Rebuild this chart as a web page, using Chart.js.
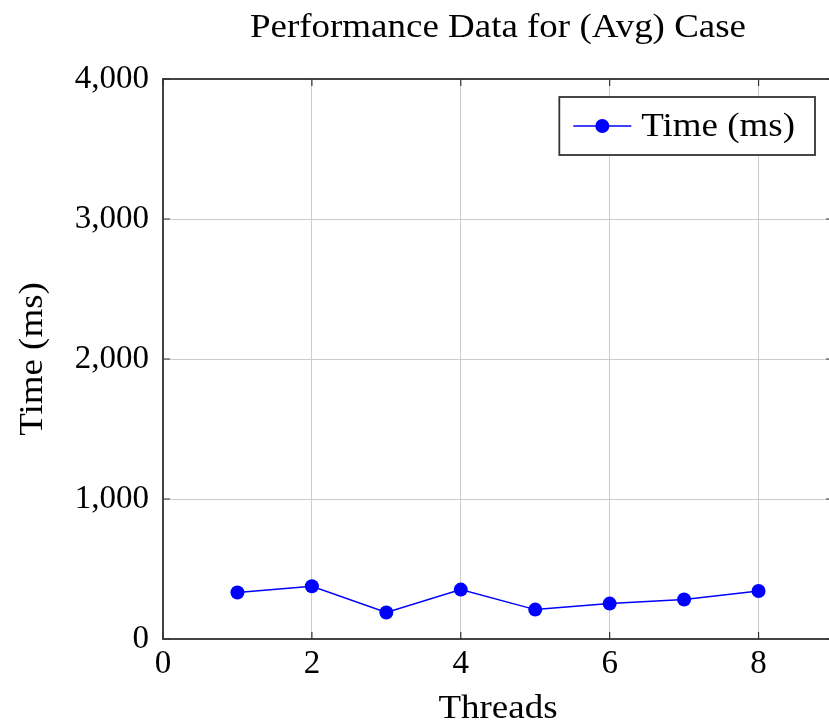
<!DOCTYPE html>
<html><head><meta charset="utf-8">
<script src="https://cdn.jsdelivr.net/npm/chart.js@4.4.1/dist/chart.umd.min.js"></script>
<style>html,body{margin:0;padding:0;background:#fff;overflow:hidden;width:829px;height:725px}</style>
</head><body>
<canvas id="c" width="840" height="725" style="display:block;width:840px;height:725px"></canvas>
<script>
const threads = [1, 2, 3, 4, 5, 6, 7, 8];
const timeMs = [332, 377, 189, 353, 210, 253, 282, 343];
const xTicks = [0, 2, 4, 6, 8];
const yTicks = [0, 1000, 2000, 3000, 4000];
const titleText = 'Performance Data for (Avg) Case';
const xLabel = 'Threads';
const yLabel = 'Time (ms)';
const seriesName = 'Time (ms)';

const FONT = '"Liberation Serif", "Times New Roman", serif';
const BLUE = '#0000ff';
const FRAME = '#333333';
const TEXT = '#000000';
const STRETCH = 1.12;

function wideText(ctx, text, x, y, align) {
  ctx.save();
  ctx.translate(x, y);
  ctx.scale(STRETCH, 1);
  ctx.textAlign = align;
  ctx.fillText(text, 0, 0);
  ctx.restore();
}

const decor = {
  id: 'decor',
  beforeDatasetsDraw(chart) {
    const {ctx, chartArea: a, scales} = chart;
    ctx.save();
    ctx.strokeStyle = FRAME;
    ctx.lineWidth = 1.2;
    ctx.beginPath();
    xTicks.forEach(v => {
      const px = scales.x.getPixelForValue(v);
      ctx.moveTo(px, a.bottom); ctx.lineTo(px, a.bottom - 7);
      ctx.moveTo(px, a.top); ctx.lineTo(px, a.top + 7);
    });
    yTicks.forEach(v => {
      const py = scales.y.getPixelForValue(v);
      ctx.moveTo(a.left, py); ctx.lineTo(a.left + 7, py);
      ctx.moveTo(a.right, py); ctx.lineTo(a.right - 7, py);
    });
    ctx.stroke();
    ctx.lineWidth = 1.8;
    ctx.strokeRect(a.left, a.top, a.right - a.left, a.bottom - a.top);
    ctx.restore();
  },
  afterDraw(chart) {
    const {ctx, chartArea: a} = chart;
    const cx = (a.left + a.right) / 2;
    ctx.save();
    ctx.fillStyle = TEXT;
    ctx.textBaseline = 'middle';
    ctx.font = '33px ' + FONT;
    wideText(ctx, titleText, cx, 28, 'center');
    wideText(ctx, xLabel, cx, 709, 'center');
    ctx.save();
    ctx.translate(33, (a.top + a.bottom) / 2);
    ctx.rotate(-Math.PI / 2);
    wideText(ctx, yLabel, 0, 0, 'center');
    ctx.restore();
    // legend
    const tw = ctx.measureText(seriesName).width * STRETCH;
    const w = tw + 102, h = 58;
    const bx = a.right - 18 - w, by = a.top + 18;
    ctx.fillStyle = '#fff';
    ctx.fillRect(bx, by, w, h);
    ctx.strokeStyle = FRAME;
    ctx.lineWidth = 1.8;
    ctx.strokeRect(bx, by, w, h);
    const ly = by + h / 2;
    ctx.strokeStyle = BLUE;
    ctx.lineWidth = 1.5;
    ctx.beginPath();
    ctx.moveTo(bx + 14, ly); ctx.lineTo(bx + 72, ly);
    ctx.stroke();
    ctx.fillStyle = BLUE;
    ctx.beginPath();
    ctx.arc(bx + 43, ly, 7, 0, Math.PI * 2);
    ctx.fill();
    ctx.fillStyle = TEXT;
    wideText(ctx, seriesName, bx + 82, ly + 1, 'left');
    ctx.restore();
  }
};

new Chart(document.getElementById('c'), {
  type: 'line',
  data: {
    datasets: [{
      label: seriesName,
      data: threads.map((x, i) => ({x, y: timeMs[i]})),
      borderColor: BLUE,
      backgroundColor: BLUE,
      borderWidth: 1.5,
      pointRadius: 7,
      pointHoverRadius: 7,
      pointBorderWidth: 0,
      tension: 0
    }]
  },
  options: {
    responsive: false,
    animation: false,
    events: [],
    layout: {padding: {top: 79, right: 7, left: 0, bottom: 0}},
    plugins: {legend: {display: false}, title: {display: false}, tooltip: {enabled: false}},
    scales: {
      x: {
        type: 'linear', min: 0, max: 9,
        afterBuildTicks: s => { s.ticks = xTicks.map(v => ({value: v})); },
        afterFit: s => { s.height = 86; },
        grid: {color: '#cccccc', lineWidth: 1, drawTicks: false},
        border: {display: false},
        ticks: {color: TEXT, font: {family: FONT, size: 33}, padding: 6, maxRotation: 0}
      },
      y: {
        type: 'linear', min: 0, max: 4000,
        afterBuildTicks: s => { s.ticks = yTicks.map(v => ({value: v})); },
        afterFit: s => { s.width = 163; },
        grid: {color: '#cccccc', lineWidth: 1, drawTicks: false},
        border: {display: false},
        ticks: {color: TEXT, font: {family: FONT, size: 33}, padding: 14,
          callback: v => Number(v).toLocaleString('en-US')}
      }
    }
  },
  plugins: [decor]
});
</script>
</body></html>
